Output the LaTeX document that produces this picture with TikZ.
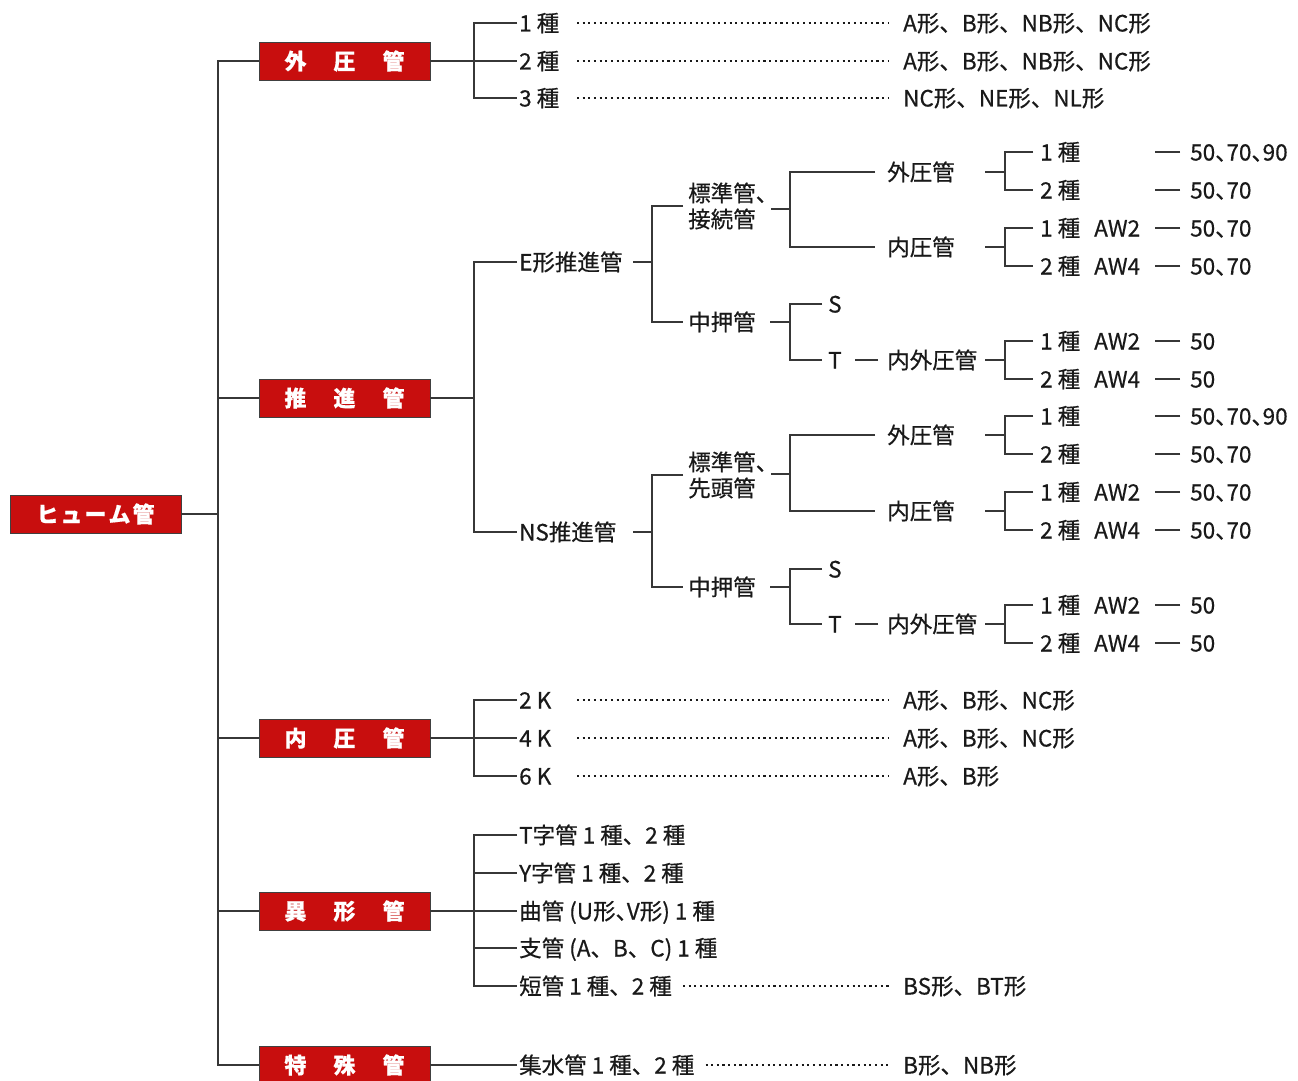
\documentclass[tikz,border=0pt]{standalone}
\usepackage{fontspec}
\setmainfont{Noto Sans CJK JP}[FakeBold=0.5]
\newfontfamily\halfcjk{Noto Sans CJK JP}[RawFeature=+halt,FakeBold=0.5]
\usetikzlibrary{calc}
\definecolor{boxred}{RGB}{200,14,14}
\definecolor{ink}{RGB}{25,25,25}
\definecolor{ln}{RGB}{55,55,55}
\newcommand{\gapx}{\hspace{27pt}}
\begin{document}
\begin{tikzpicture}[x=1pt,y=-1pt,
  tx/.style={anchor=west, inner sep=0pt, text height=17pt, text depth=0pt, text=ink, font=\fontsize{22.5}{26}\selectfont},
  txtwo/.style={anchor=west, inner sep=0pt, align=left, text=ink, font=\fontsize{22.5}{26}\selectfont},
  hbox/.style={fill=boxred, draw=black!75, line width=0.8pt, minimum width=171pt, minimum height=38pt, inner sep=0pt, text=white, font=\fontsize{22}{26}\selectfont\bfseries},
  edge/.style={draw=ln, line width=1.1pt},
  dotl/.style={draw=ink, line width=2.2pt, line cap=butt, dash pattern=on 2.1pt off 3.55pt},
  dashl/.style={draw=ln, line width=1.1pt}
]
\fill[white] (0,0) rectangle (1298,1081);
\useasboundingbox (0,0) rectangle (1298,1081);

% ---- root and level 1 boxes
\node[hbox] (root) at (95.5,514) {ヒ\kern2ptュ\kern2ptー\kern2ptム\kern2pt管};
\node[hbox] (b1) at (344.5,61) {外\gapx 圧\gapx 管};
\node[hbox] (b2) at (344.5,398) {推\gapx 進\gapx 管};
\node[hbox] (b3) at (344.5,738) {内\gapx 圧\gapx 管};
\node[hbox] (b4) at (344.5,911) {異\gapx 形\gapx 管};
\node[hbox] (b5) at (344.5,1065) {特\gapx 殊\gapx 管};

\coordinate (tr) at (218,514);
\draw[edge] (root.east) -- (tr);
\draw[edge] (b1.west) -| (tr |- b5.west) -- (b5.west);
\draw[edge] (b2.west) -- (tr |- b2.west);
\draw[edge] (b3.west) -- (tr |- b3.west);
\draw[edge] (b4.west) -- (tr |- b4.west);

\coordinate (dx) at (577,0);

% ---- 外圧管
\node[tx] (g11) at (519,23) {1 種};
\node[tx] (g12) at (519,61) {2 種};
\node[tx] (g13) at (519,98) {3 種};
\node[tx] (v11) at (903,23) {A形、B形、NB形、NC形};
\node[tx] (v12) at (903,61) {A形、B形、NB形、NC形};
\node[tx] (v13) at (903,98) {NC形、NE形、NL形};
\coordinate (j1) at (474,61);
\draw[edge] (b1.east) -- (j1);
\draw[edge, shorten <=2pt, shorten >=2pt] (g11.west) -| (j1 |- g13.west) -- (g13.west);
\draw[edge, shorten >=2pt] (j1) -- (g12.west);
\draw[dotl] (g11.west -| dx) -- ([xshift=-14pt]v11.west);
\draw[dotl] (g12.west -| dx) -- ([xshift=-14pt]v12.west);
\draw[dotl] (g13.west -| dx) -- ([xshift=-14pt]v13.west);

% ---- 推進管
\node[tx] (e) at (519,262) {E形推進管};
\node[tx] (ns) at (519,532) {NS推進管};
\coordinate (j2) at (474,398);
\draw[edge] (b2.east) -- (j2);
\draw[edge, shorten <=2pt, shorten >=2pt] (e.west) -| (j2 |- ns.west) -- (ns.west);

% E形
\coordinate (je1) at (652,262);
\draw[edge] (je1) -- ++(-19,0);
\node[txtwo] (h1) at (688,206) {標準管、\\接続管};
\node[tx] (m1) at (688,322) {中押管};
\draw[edge, shorten <=5pt, shorten >=5pt] (h1.west) -| (je1 |- m1.west) -- (m1.west);

\coordinate (jh1) at (790,209);
\draw[edge] (jh1) -- ++(-19,0);
\node[tx] (o1) at (887,172) {外圧管};
\node[tx] (i1) at (887,247) {内圧管};
\draw[edge, shorten <=12pt, shorten >=12pt] (o1.west) -| (jh1 |- i1.west) -- (i1.west);

\coordinate (jo1) at (1005,172);
\draw[edge] (jo1) -- ++(-20,0);
\node[tx] (r11) at (1040,152) {1 種};
\node[tx] (r12) at (1040,190) {2 種};
\draw[edge, shorten <=7pt, shorten >=7pt] (r11.west) -| (jo1 |- r12.west) -- (r12.west);
\node[tx] (n11) at (1190,152) {\halfcjk 50、70、90};
\node[tx] (n12) at (1190,190) {\halfcjk 50、70};
\draw[dashl] ([xshift=-10pt]n11.west) -- ++(-25,0);
\draw[dashl] ([xshift=-10pt]n12.west) -- ++(-25,0);

\coordinate (ji1) at (1005,247);
\draw[edge] (ji1) -- ++(-20,0);
\node[tx] (r13) at (1040,228) {1 種};
\node[tx] (r14) at (1040,266) {2 種};
\node[tx] (a13) at (1094,228) {AW2};
\node[tx] (a14) at (1094,266) {AW4};
\draw[edge, shorten <=7pt, shorten >=7pt] (r13.west) -| (ji1 |- r14.west) -- (r14.west);
\node[tx] (n13) at (1190,228) {\halfcjk 50、70};
\node[tx] (n14) at (1190,266) {\halfcjk 50、70};
\draw[dashl] ([xshift=-10pt]n13.west) -- ++(-25,0);
\draw[dashl] ([xshift=-10pt]n14.west) -- ++(-25,0);

\coordinate (jm1) at (790,322);
\draw[edge] (jm1) -- ++(-20,0);
\node[tx] (s1) at (828,304) {S};
\node[tx] (t1) at (828,360) {T};
\draw[edge, shorten <=6pt, shorten >=6pt] (s1.west) -| (jm1 |- t1.west) -- (t1.west);
\node[tx] (io1) at (887,360) {内外圧管};
\draw[dashl] ([xshift=-9pt]io1.west) -- ++(-23,0);
\coordinate (jio1) at (1005,360);
\draw[edge] (jio1) -- ++(-20,0);
\node[tx] (r15) at (1040,341) {1 種};
\node[tx] (r16) at (1040,379) {2 種};
\node[tx] (a15) at (1094,341) {AW2};
\node[tx] (a16) at (1094,379) {AW4};
\draw[edge, shorten <=7pt, shorten >=7pt] (r15.west) -| (jio1 |- r16.west) -- (r16.west);
\node[tx] (n15) at (1190,341) {50};
\node[tx] (n16) at (1190,379) {50};
\draw[dashl] ([xshift=-10pt]n15.west) -- ++(-25,0);
\draw[dashl] ([xshift=-10pt]n16.west) -- ++(-25,0);

% NS形
\coordinate (je2) at (652,532);
\draw[edge] (je2) -- ++(-19,0);
\node[txtwo] (h2) at (688,475) {標準管、\\先頭管};
\node[tx] (m2) at (688,587) {中押管};
\draw[edge, shorten <=5pt, shorten >=5pt] (h2.west) -| (je2 |- m2.west) -- (m2.west);

\coordinate (jh2) at (790,474);
\draw[edge] (jh2) -- ++(-19,0);
\node[tx] (o2) at (887,435) {外圧管};
\node[tx] (i2) at (887,511) {内圧管};
\draw[edge, shorten <=12pt, shorten >=12pt] (o2.west) -| (jh2 |- i2.west) -- (i2.west);

\coordinate (jo2) at (1005,435);
\draw[edge] (jo2) -- ++(-20,0);
\node[tx] (r21) at (1040,416) {1 種};
\node[tx] (r22) at (1040,454) {2 種};
\draw[edge, shorten <=7pt, shorten >=7pt] (r21.west) -| (jo2 |- r22.west) -- (r22.west);
\node[tx] (n21) at (1190,416) {\halfcjk 50、70、90};
\node[tx] (n22) at (1190,454) {\halfcjk 50、70};
\draw[dashl] ([xshift=-10pt]n21.west) -- ++(-25,0);
\draw[dashl] ([xshift=-10pt]n22.west) -- ++(-25,0);

\coordinate (ji2) at (1005,511);
\draw[edge] (ji2) -- ++(-20,0);
\node[tx] (r23) at (1040,492) {1 種};
\node[tx] (r24) at (1040,530) {2 種};
\node[tx] (a23) at (1094,492) {AW2};
\node[tx] (a24) at (1094,530) {AW4};
\draw[edge, shorten <=7pt, shorten >=7pt] (r23.west) -| (ji2 |- r24.west) -- (r24.west);
\node[tx] (n23) at (1190,492) {\halfcjk 50、70};
\node[tx] (n24) at (1190,530) {\halfcjk 50、70};
\draw[dashl] ([xshift=-10pt]n23.west) -- ++(-25,0);
\draw[dashl] ([xshift=-10pt]n24.west) -- ++(-25,0);

\coordinate (jm2) at (790,587);
\draw[edge] (jm2) -- ++(-20,0);
\node[tx] (s2) at (828,569) {S};
\node[tx] (t2) at (828,624) {T};
\draw[edge, shorten <=6pt, shorten >=6pt] (s2.west) -| (jm2 |- t2.west) -- (t2.west);
\node[tx] (io2) at (887,624) {内外圧管};
\draw[dashl] ([xshift=-9pt]io2.west) -- ++(-23,0);
\coordinate (jio2) at (1005,624);
\draw[edge] (jio2) -- ++(-20,0);
\node[tx] (r25) at (1040,605) {1 種};
\node[tx] (r26) at (1040,643) {2 種};
\node[tx] (a25) at (1094,605) {AW2};
\node[tx] (a26) at (1094,643) {AW4};
\draw[edge, shorten <=7pt, shorten >=7pt] (r25.west) -| (jio2 |- r26.west) -- (r26.west);
\node[tx] (n25) at (1190,605) {50};
\node[tx] (n26) at (1190,643) {50};
\draw[dashl] ([xshift=-10pt]n25.west) -- ++(-25,0);
\draw[dashl] ([xshift=-10pt]n26.west) -- ++(-25,0);

% ---- 内圧管
\node[tx] (k1) at (519,700) {2 K};
\node[tx] (k2) at (519,738) {4 K};
\node[tx] (k3) at (519,776) {6 K};
\node[tx] (w1) at (903,700) {A形、B形、NC形};
\node[tx] (w2) at (903,738) {A形、B形、NC形};
\node[tx] (w3) at (903,776) {A形、B形};
\coordinate (j3) at (474,738);
\draw[edge] (b3.east) -- (j3);
\draw[edge, shorten <=2pt, shorten >=2pt] (k1.west) -| (j3 |- k3.west) -- (k3.west);
\draw[edge, shorten >=2pt] (j3) -- (k2.west);
\draw[dotl] (k1.west -| dx) -- ([xshift=-14pt]w1.west);
\draw[dotl] (k2.west -| dx) -- ([xshift=-14pt]w2.west);
\draw[dotl] (k3.west -| dx) -- ([xshift=-14pt]w3.west);

% ---- 異形管
\node[tx] (y1) at (519,835) {T字管 1 種、2 種};
\node[tx] (y2) at (519,873) {Y字管 1 種、2 種};
\node[tx] (y3) at (519,911) {曲管 {\halfcjk (U形、V形)} 1 種};
\node[tx] (y4) at (519,948) {支管 (A、B、C) 1 種};
\node[tx] (y5) at (519,986) {短管 1 種、2 種};
\node[tx] (yv) at (903,986) {BS形、BT形};
\coordinate (j4) at (474,911);
\draw[edge] (b4.east) -- (j4);
\draw[edge, shorten <=2pt, shorten >=2pt] (y1.west) -| (j4 |- y5.west) -- (y5.west);
\draw[edge, shorten >=2pt] (j4) -- (y3.west);
\draw[edge, shorten >=2pt] (j4 |- y2.west) -- (y2.west);
\draw[edge, shorten >=2pt] (j4 |- y4.west) -- (y4.west);
\draw[dotl] ([xshift=11pt]y5.east) -- ([xshift=-14pt]yv.west);

% ---- 特殊管
\node[tx] (z1) at (519,1065) {集水管 1 種、2 種};
\node[tx] (zv) at (903,1065) {B形、NB形};
\draw[edge, shorten >=2pt] (b5.east) -- (z1.west);
\draw[dotl] ([xshift=11pt]z1.east) -- ([xshift=-14pt]zv.west);
\end{tikzpicture}
\end{document}
